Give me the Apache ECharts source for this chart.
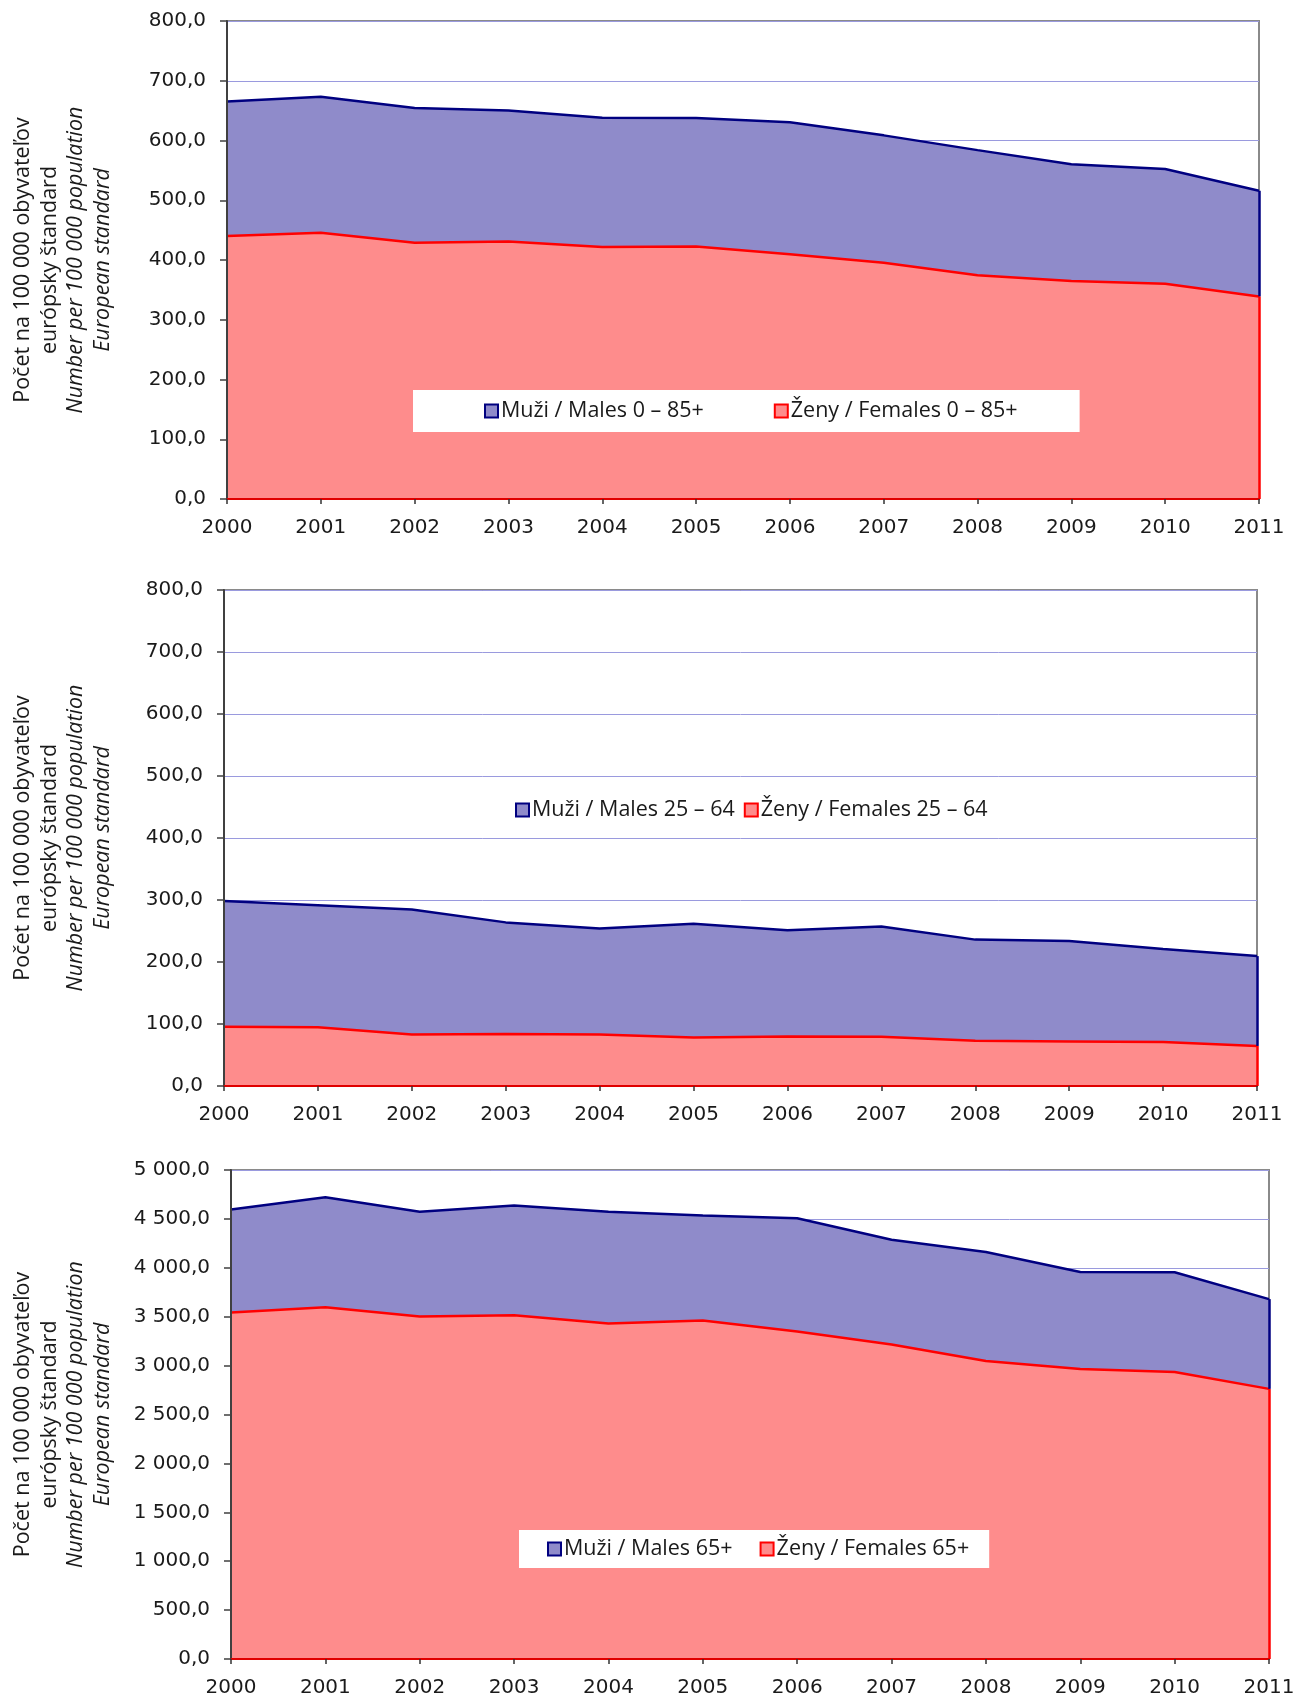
<!DOCTYPE html>
<html>
<head>
<meta charset="utf-8">
<script src="https://cdn.jsdelivr.net/npm/echarts@6/dist/echarts.min.js"></script>
<style>
html,body{margin:0;padding:0;background:#fff;}
#c{width:1293px;height:1697px;}
</style>
</head>
<body>
<div id="c"></div>
<script>
// ---- data ----
const years = ['2000','2001','2002','2003','2004','2005','2006','2007','2008','2009','2010','2011'];

const males1   = [665.1, 673.2, 654.2, 650.1, 638.0, 637.5, 630.5, 608.6, 583.9, 560.2, 552.2, 515.9];
const females1 = [440.3, 445.5, 428.8, 431.1, 421.9, 422.5, 409.8, 395.4, 374.6, 364.8, 360.2, 338.9];

const males2   = [298.4, 291.6, 284.8, 263.9, 254.2, 261.6, 251.4, 257.1, 236.1, 233.9, 220.8, 209.5];
const females2 = [95.7, 94.6, 83.2, 83.8, 83.2, 78.1, 79.8, 79.3, 73.0, 71.9, 70.8, 64.6];

const males3   = [4597, 4722, 4572, 4636, 4572, 4536, 4507, 4286, 4161, 3958, 3954, 3680];
const females3 = [3544, 3597, 3501, 3515, 3430, 3462, 3348, 3216, 3048, 2966, 2934, 2762];

const names1 = ['Muži / Males 0 – 85+', 'Ženy / Females 0 – 85+'];
const names2 = ['Muži / Males 25 – 64', 'Ženy / Females 25 – 64'];
const names3 = ['Muži / Males 65+', 'Ženy / Females 65+'];

const yTicks1 = ['0,0','100,0','200,0','300,0','400,0','500,0','600,0','700,0','800,0'];
const yTicks2 = ['0,0','100,0','200,0','300,0','400,0','500,0','600,0','700,0','800,0'];
const yTicks3 = ['0,0','500,0','1 000,0','1 500,0','2 000,0','2 500,0','3 000,0','3 500,0','4 000,0','4 500,0','5 000,0'];

const yTitle = 'Počet na 100 000 obyvateľov\neurópsky štandard\n{i|Number per 100 000 population}\n{i|European standard}';

// ---- style ----
const FONT = 'Open Sans';
const NUMFONT = 'DejaVu Sans';
const MALE_FILL = '#8f8bca', MALE_LINE = '#000080';
const FEM_FILL = '#fe8c8c', FEM_LINE = '#ff0000';
const GRID_COLOR = '#9a9ade';
const TXT = '#1a1a1a';

const chart = echarts.init(document.getElementById('c'), null, {renderer:'canvas'});

const grids = [
  {left:227, top:21, width:1032, height:478},
  {left:224, top:590, width:1033, height:496},
  {left:231, top:1170, width:1038, height:489}
];
const nameGaps = [111, 108, 115];

// main axes: labels + split lines, drawn under the areas
function xAxisMain(i){
  return {
    type:'category', gridIndex:i, position:'bottom', data:years, boundaryGap:false,
    axisLine:{show:false}, axisTick:{show:false},
    axisLabel:{fontFamily:NUMFONT, fontSize:20, color:TXT, margin:19},
    splitLine:{show:false}
  };
}
// overlay axes: axis line + ticks, drawn above the areas
function xAxisTop(i){
  return {
    type:'category', gridIndex:i, position:'bottom', data:years, boundaryGap:false,
    axisLine:{show:true, lineStyle:{color:'#e00000', width:2}},
    axisTick:{show:true, length:5, lineStyle:{color:'#333', width:1.5}},
    axisLabel:{show:false}, splitLine:{show:false}, z:10
  };
}
function yAxisMain(i, max, interval, ticks){
  return {
    type:'value', gridIndex:i, position:'left', min:0, max:max, interval:interval,
    axisLine:{show:false}, axisTick:{show:false},
    axisLabel:{fontFamily:NUMFONT, fontSize:20, color:TXT, margin:21,
      formatter:(v)=>ticks[Math.round(v/interval)]},
    splitLine:{show:true, lineStyle:{color:GRID_COLOR, width:1}},
    name:yTitle, nameLocation:'middle', nameGap:nameGaps[i], nameRotate:90,
    nameTextStyle:{fontFamily:FONT, fontSize:21.5, lineHeight:26.5, color:TXT,
      rich:{i:{fontFamily:FONT, fontSize:21.5, lineHeight:26.5, fontStyle:'italic', color:TXT}}}
  };
}
function yAxisTop(i, max, interval){
  return {
    type:'value', gridIndex:i, position:'left', min:0, max:max, interval:interval,
    axisLine:{show:true, lineStyle:{color:'#404040', width:2}},
    axisTick:{show:true, length:7, lineStyle:{color:'#404040', width:1.5}},
    axisLabel:{show:false}, splitLine:{show:false}, z:10
  };
}
function pair(i, names, males, females){
  const last = years[years.length-1];
  const mL = males[males.length-1], fL = females[females.length-1];
  return [
    {
      name:names[0], type:'line', xAxisIndex:i, yAxisIndex:i, data:males,
      symbol:'none', lineStyle:{color:MALE_LINE, width:2.5},
      areaStyle:{color:MALE_FILL, opacity:1},
      itemStyle:{color:MALE_FILL, borderColor:MALE_LINE, borderWidth:2},
      markLine:{symbol:'none', silent:true, label:{show:false},
        lineStyle:{color:MALE_LINE, width:2.5, type:'solid'},
        data:[[{coord:[last, fL]},{coord:[last, mL]}]]},
      z:2
    },
    {
      name:names[1], type:'line', xAxisIndex:i, yAxisIndex:i, data:females,
      symbol:'none', lineStyle:{color:FEM_LINE, width:2.5},
      areaStyle:{color:FEM_FILL, opacity:1},
      itemStyle:{color:FEM_FILL, borderColor:FEM_LINE, borderWidth:2},
      markLine:{symbol:'none', silent:true, label:{show:false},
        lineStyle:{color:FEM_LINE, width:2.5, type:'solid'},
        data:[[{coord:[last, 0]},{coord:[last, fL]}]]},
      z:3
    }
  ];
}
function legend(names, opts){
  return Object.assign({
    icon:'rect', itemWidth:13, itemHeight:13, orient:'horizontal',
    textStyle:{fontFamily:FONT, fontSize:21.5, color:TXT, padding:[0,0,0,-2]},
    data:[
      {name:names[0], itemStyle:{color:MALE_FILL, borderColor:MALE_LINE, borderWidth:2}},
      {name:names[1], itemStyle:{color:FEM_FILL, borderColor:FEM_LINE, borderWidth:2}}
    ],
    selectedMode:false, z:20
  }, opts);
}

const option = {
  animation:false,
  backgroundColor:'#fff',
  grid: grids.map(g=>Object.assign({show:true, borderColor:'#8a8a8a', borderWidth:2,
    backgroundColor:'transparent', containLabel:false, outerBoundsMode:'none'}, g)),
  xAxis:[xAxisMain(0), xAxisMain(1), xAxisMain(2), xAxisTop(0), xAxisTop(1), xAxisTop(2)],
  yAxis:[yAxisMain(0,800,100,yTicks1), yAxisMain(1,800,100,yTicks2), yAxisMain(2,5000,500,yTicks3),
         yAxisTop(0,800,100), yAxisTop(1,800,100), yAxisTop(2,5000,500)],
  legend:[
    legend(names1, {left:413, top:390, itemGap:70, padding:[10,62,10,71], backgroundColor:'#fff'}),
    legend(names2, {left:513, top:797, itemGap:9, padding:[2,2,2,2]}),
    legend(names3, {left:519, top:1530, itemGap:27, padding:[8,20,8,28], backgroundColor:'#fff'})
  ],
  series:[].concat(pair(0,names1,males1,females1), pair(1,names2,males2,females2), pair(2,names3,males3,females3))
};
chart.setOption(option);
</script>
</body>
</html>
